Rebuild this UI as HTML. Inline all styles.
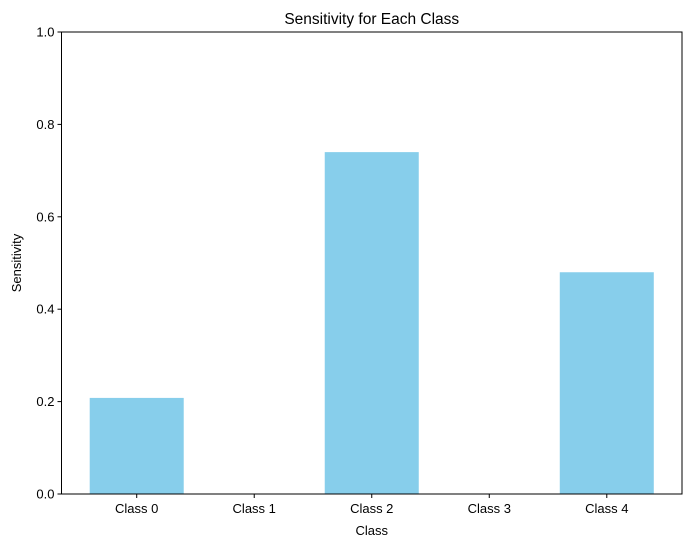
<!DOCTYPE html>
<html><head><meta charset="utf-8"><style>
body{margin:0;background:#fff}
svg{display:block;font-family:"Liberation Sans","DejaVu Sans",sans-serif}
</style></head><body>
<svg id="chart" width="691" height="547" viewBox="0 0 691 547">
<rect width="691" height="547" fill="#fff"/>
<g id="bars"></g>
<g id="axes"></g>
</svg>
<script>
const categories = ["Class 0","Class 1","Class 2","Class 3","Class 4"];
const sensitivity = [0.208, 0, 0.740, 0, 0.480];
const yTicks = [0.0, 0.2, 0.4, 0.6, 0.8, 1.0];
const yTickLabels = ["0.0","0.2","0.4","0.6","0.8","1.0"];

const L=61.5,R=682,T=32,B=494;
const xMin=-0.64,xMax=categories.length-1+0.64;
const x=i=>L+(i-xMin)/(xMax-xMin)*(R-L);
const y=v=>B-v*(B-T);
const NS="http://www.w3.org/2000/svg";
function mk(tag,attrs,parent){const e=document.createElementNS(NS,tag);for(const k in attrs)e.setAttribute(k,attrs[k]);parent.appendChild(e);return e;}
const bars=document.getElementById('bars'),axes=document.getElementById('axes');
const bw=(x(1)-x(0))*0.8;
categories.forEach((c,i)=>{
  const r=mk('rect',{x:x(i)-bw/2,y:y(sensitivity[i]),width:bw,height:B-y(sensitivity[i]),fill:'#87ceeb'},bars);
  
  
  const t=mk('line',{x1:x(i),x2:x(i),y1:B,y2:B+4,stroke:'#000','stroke-width':1},axes);
  
  
  const lb=mk('text',{x:x(i),y:B+19,'text-anchor':'middle','font-size':13,fill:'#000'},axes);
  lb.textContent=c;
  
  
});
yTicks.forEach((v,i)=>{
  const t=mk('line',{x1:L-4,x2:L,y1:y(v),y2:y(v),stroke:'#000','stroke-width':1},axes);
  
  
  const lb=mk('text',{x:L-7,y:y(v)+4.5,'text-anchor':'end','font-size':13,fill:'#000'},axes);
  lb.textContent=yTickLabels[i];
  
  
});
const frame=mk('rect',{x:L,y:T,width:R-L,height:B-T,fill:'none',stroke:'#000','stroke-width':1},axes);


const title=mk('text',{x:(L+R)/2,y:T-8,'text-anchor':'middle','font-size':15.5,fill:'#000'},axes);
title.textContent='Sensitivity for Each Class';


const xt=mk('text',{x:(L+R)/2,y:535,'text-anchor':'middle','font-size':13,fill:'#000'},axes);
xt.textContent='Class';


const yt=mk('text',{x:21,y:(T+B)/2,'text-anchor':'middle','font-size':13,fill:'#000',transform:'rotate(-90 21 '+((T+B)/2)+')'},axes);
yt.textContent='Sensitivity';


</script>
</body></html>
